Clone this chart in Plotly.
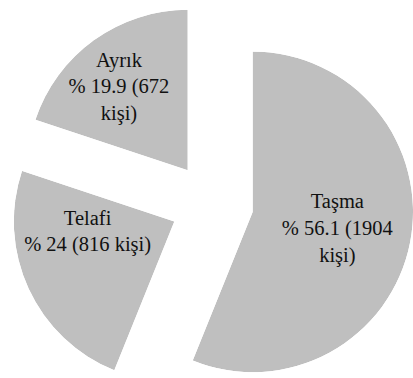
import math
import plotly.graph_objects as go

# ---- data ----
categories = ["Taşma", "Telafi", "Ayrık"]
percents = [56.1, 24.0, 19.9]
counts = [1904, 816, 672]

# ---- layout / style constants ----
W, H = 413, 378
PIE_CX, PIE_CY = 212.0, 204.0   # centre of the un-exploded pie (px)
PIE_R = 160.5                   # radius (px)
PULL_PX = 41.5                  # explode distance (px)
SLICE_COLOR = "#bfbfbf"
FONT = dict(family="Liberation Serif, Times New Roman, serif", size=20.5, color="#111111")
LABEL_POS = [(0.54, 102.0), (0.545, 262.4), (0.668, 320.1)]  # (r fraction, compass deg)


def make_label(cat, pct, cnt):
    second = f"% {pct:g} ({cnt} kişi)"
    if len(second) > 15:
        second = f"% {pct:g} ({cnt}<br>kişi)"
    return f"{cat}<br>{second}"


def sector_bbox(a0, a1):
    # bbox (in unit coords, y up) of a circular sector from a0 to a1 (math deg, ccw), incl. centre
    pts = [(0.0, 0.0), (math.cos(math.radians(a0)), math.sin(math.radians(a0))),
           (math.cos(math.radians(a1)), math.sin(math.radians(a1)))]
    k = math.ceil(a0 / 90.0)
    while k * 90 <= a1:
        a = k * 90
        pts.append((math.cos(math.radians(a)), math.sin(math.radians(a))))
        k += 1
    xs = [p[0] for p in pts]
    ys = [p[1] for p in pts]
    return min(xs), min(ys), max(xs), max(ys)


total = sum(percents)
fig = go.Figure()
start = 0.0
layout_polars = {}
for i, (cat, pct, cnt) in enumerate(zip(categories, percents, counts)):
    span = pct / total * 360.0
    bis = start + span / 2.0
    end = start + span
    # apex of the exploded slice in px (screen coords, y down)
    ax = PIE_CX + PULL_PX * math.sin(math.radians(bis))
    ay = PIE_CY - PULL_PX * math.cos(math.radians(bis))
    # sector in plotly's math-angle convention
    s0, s1 = 90.0 - end, 90.0 - start
    x0, y0, x1, y1 = sector_bbox(s0, s1)
    L = ax + PIE_R * x0
    Rr = ax + PIE_R * x1
    T = ay - PIE_R * y1
    B = ay - PIE_R * y0
    dom_x = [max(0.0, L / W), min(1.0, Rr / W)]
    dom_y = [max(0.0, 1 - B / H), min(1.0, 1 - T / H)]
    pname = "polar" if i == 0 else f"polar{i + 1}"
    sub = "polar" if i == 0 else f"polar{i + 1}"
    layout_polars[pname] = dict(
        domain=dict(x=dom_x, y=dom_y),
        sector=[s0, s1],
        bgcolor="rgba(0,0,0,0)",
        hole=0,
        radialaxis=dict(range=[0, 1], visible=False, showgrid=False, showline=False, ticks=""),
        angularaxis=dict(rotation=90, direction="clockwise", visible=False,
                         showgrid=False, showline=False, ticks=""),
    )
    fig.add_trace(go.Barpolar(
        r=[1.0], theta=[bis], width=[span], subplot=sub,
        marker=dict(color=SLICE_COLOR, line=dict(width=0)),
        hoverinfo="skip", showlegend=False,
    ))
    lr, lt = LABEL_POS[i]
    fig.add_trace(go.Scatterpolar(
        r=[lr], theta=[lt], subplot=sub, mode="text",
        text=[make_label(cat, pct, cnt)], textposition="middle center",
        textfont=FONT, cliponaxis=False, hoverinfo="skip", showlegend=False,
    ))
    start = end

fig.update_layout(
    width=W, height=H,
    margin=dict(l=0, r=0, t=0, b=0),
    paper_bgcolor="white",
    plot_bgcolor="white",
    showlegend=False,
    **layout_polars,
)

fig.write_html("out.html")
